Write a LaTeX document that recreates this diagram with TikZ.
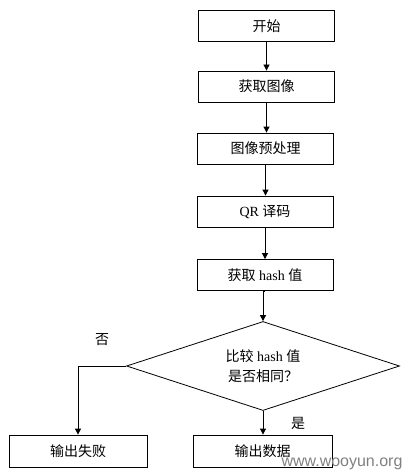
\documentclass[tikz,border=0pt]{standalone}
\usepackage{fontspec}
\setmainfont{Liberation Serif}
\newfontfamily\cjk{Noto Sans CJK SC}
\newfontfamily\wmfont{Liberation Sans}
\usetikzlibrary{shapes.geometric,arrows.meta}
\begin{document}
\begin{tikzpicture}[x=1pt,y=-1pt,
  font=\fontsize{14}{17}\selectfont,
  procbox/.style={draw,line width=0.8pt,minimum width=136pt,minimum height=31pt,inner sep=0pt},
  decbox/.style={draw,line width=0.8pt,diamond,aspect=3.07,minimum width=273pt,minimum height=89pt,inner sep=0pt,align=center,font=\fontsize{14}{20}\selectfont},
  flow/.style={line width=0.8pt,-{Triangle[length=6pt,width=6pt]}},
  lbl/.style={inner sep=0pt}]
\useasboundingbox (0,0) rectangle (408,476);
\node[procbox] (b1) at (266.5,26) {\cjk 开始};
\node[procbox] (b2) at (266.5,86.5) {\cjk 获取图像};
\node[procbox] (b3) at (265.5,148.5) {\cjk 图像预处理};
\node[procbox] (b4) at (265,211.5) {QR {\cjk 译码}};
\node[procbox] (b5) at (265,275) {{\cjk 获取} hash {\cjk 值}};
\node[decbox] (d) at (263,366) {{\cjk 比较} hash {\cjk 值}\\{\cjk 是否相同？}};
\node[procbox,minimum width=138pt,minimum height=32pt] (fail) at (78,451) {\cjk 输出失败};
\node[procbox,minimum width=139pt,minimum height=32pt] (out) at (262.5,451) {\cjk 输出数据};
\node[lbl] (no) at (102,340) {\cjk 否};
\node[lbl] (yes) at (298,423) {\cjk 是};
\node[lbl,text=black!50,font=\wmfont\fontsize{16}{18}\selectfont] (wm) at (342,464) {www.wooyun.org};
\draw[flow] (b1.south) -- (b1.south |- b2.north);
\draw[flow] (b2.south) -- (b2.south |- b3.north);
\draw[flow] (b3.south) -- (b3.south |- b4.north);
\draw[flow] (b4.south) -- (b4.south |- b5.north);
\draw[flow] (b5.south) -- (b5.south -| d.north) -- (d.north);
\draw[flow] (d.south) -- (d.south |- out.north);
\draw[flow] (d.west) -| (fail.north);
\end{tikzpicture}
\end{document}
